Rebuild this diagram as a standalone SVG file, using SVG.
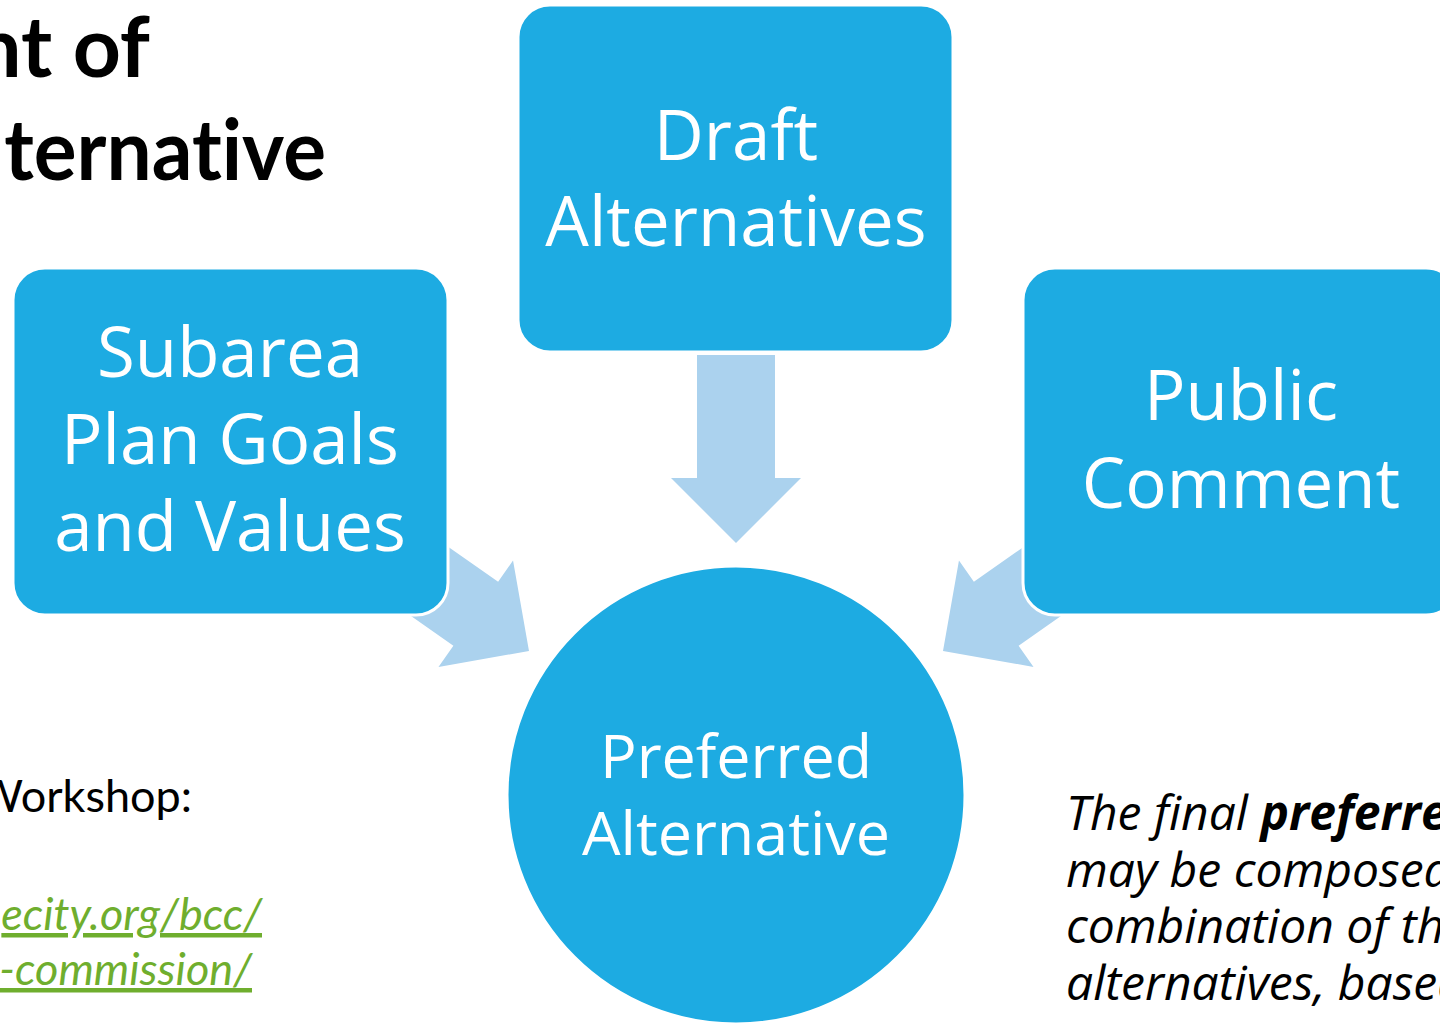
<svg xmlns="http://www.w3.org/2000/svg" width="1440" height="1024" viewBox="0 0 1440 1024">
<defs>
<style>
.box{fill:#1DABE2;stroke:#FFFFFF;stroke-width:3}
.arr{fill:#ABD2EE}
.nt{fill:#FFFFFF;font-family:"Open Sans","Noto Sans",sans-serif;font-size:69px;text-anchor:middle}
.ct{fill:#FFFFFF;font-family:"Open Sans","Noto Sans",sans-serif;font-size:61px;text-anchor:middle}
.title{fill:#000000;font-family:Lato,"Liberation Sans",sans-serif;font-weight:bold;font-size:84px;font-variant-ligatures:none}
.body{fill:#000000;font-family:Lato,"Liberation Sans",sans-serif;font-size:45px}
.link{fill:#6FAE2E;font-family:Lato,"Liberation Sans",sans-serif;font-style:italic;font-size:45px;text-anchor:end;text-decoration:underline}
.note{fill:#000000;font-family:"Open Sans","Noto Sans",sans-serif;font-style:italic;font-size:48px}
</style>
<polygon id="arrowShape" points="-39,-188 39,-188 39,-65 65,-65 0,0 -65,-65 -39,-65"/>
</defs>
<rect width="1440" height="1024" fill="#FFFFFF"/>
<g id="title">
<text class="title" x="150" y="77" text-anchor="end">nt of</text>
<text class="title" x="0" y="0" text-anchor="end" transform="translate(326,180) scale(0.955,1)">lternative</text>
</g>
<g id="connectors">
<use href="#arrowShape" class="arr" transform="translate(736,543)"/>
<use href="#arrowShape" class="arr" transform="translate(529,651) rotate(-55)"/>
<use href="#arrowShape" class="arr" transform="translate(943,651) rotate(55)"/>
</g>
<g id="node-goals">
<rect class="box" x="13" y="268" width="435" height="347" rx="32"/>
<text class="nt" x="230" y="377">Subarea</text>
<text class="nt" x="230" y="464">Plan Goals</text>
<text class="nt" x="230" y="551">and Values</text>
</g>
<g id="node-draft">
<rect class="box" x="518" y="5" width="435" height="347" rx="32"/>
<text class="nt" x="736" y="160">Draft</text>
<text class="nt" x="736" y="246">Alternatives</text>
</g>
<g id="node-public">
<rect class="box" x="1023" y="268" width="435" height="347" rx="32"/>
<text class="nt" x="1241" y="420">Public</text>
<text class="nt" x="1241" y="508">Comment</text>
</g>
<g id="node-preferred">
<circle class="box" cx="736" cy="795" r="229"/>
<text class="ct" x="736" y="778">Preferred</text>
<text class="ct" x="736" y="855">Alternative</text>
</g>
<g id="left-text">
<text class="body" x="192" y="812" text-anchor="end">Workshop:</text>
<text class="link" x="262" y="930">ecity.org/bcc/</text>
<text class="link" x="252" y="985">-commission/</text>
</g>
<g id="note">
<text class="note" x="1066" y="830">The final <tspan font-weight="bold">preferred</tspan></text>
<text class="note" x="1066" y="887">may be composed</text>
<text class="note" x="1066" y="943">combination of the</text>
<text class="note" x="1066" y="1000">alternatives, based</text>
</g>
</svg>
